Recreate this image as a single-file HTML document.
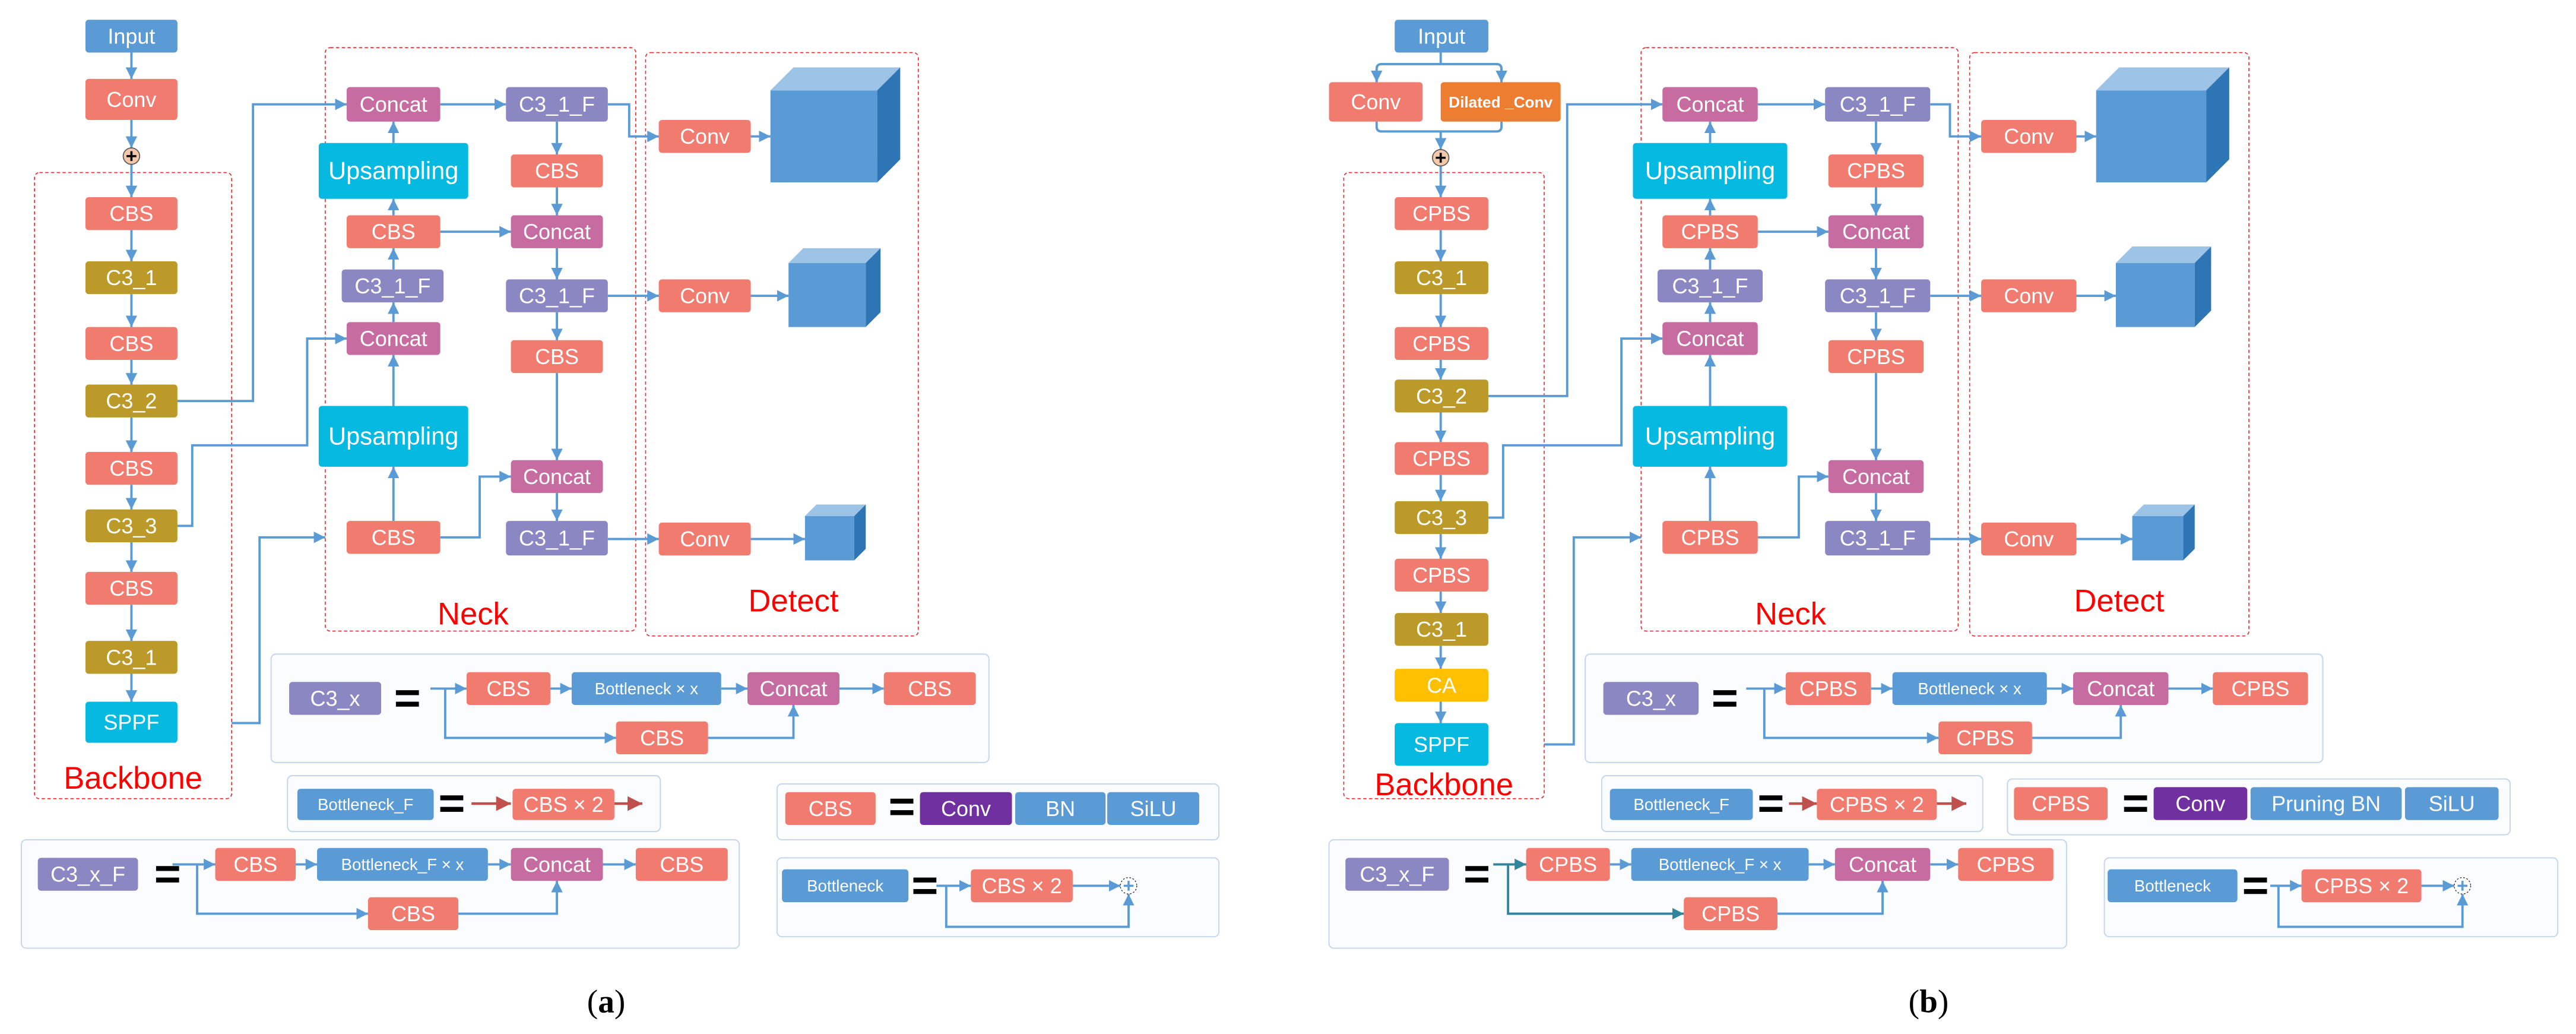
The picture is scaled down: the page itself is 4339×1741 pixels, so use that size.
<!DOCTYPE html>
<html><head><meta charset="utf-8"><style>
html,body{margin:0;padding:0;background:#fff}
svg{display:block}
.t{fill:#fff;text-anchor:middle;font-family:"Liberation Sans Narrow","Liberation Sans",sans-serif;font-size:13px}
.s{font-size:10px}
.r{fill:#f00;text-anchor:middle;font-family:"Liberation Sans Narrow","Liberation Sans",sans-serif;font-size:19px}
.l{fill:none;stroke:#5b9bd5;stroke-width:1.4}
.d{fill:none;stroke:#e03030;stroke-width:0.6;stroke-dasharray:2,1.5}
.g{fill:#fbfcfe;stroke:#c3d6ee;stroke-width:0.7}
.B{fill:#5b9bd5}.S{fill:#f27b6f}.O{fill:#bc9a2a}.P{fill:#8b87c3}.M{fill:#c66ca1}.C{fill:#05b9e1}.V{fill:#7030a0}.Y{fill:#ffc000}.Or{fill:#ed7d31}
.k{fill:#000}
</style></head><body>
<svg width="4339" height="1741" viewBox="0 0 1568.1 629.2" xmlns="http://www.w3.org/2000/svg">
<defs>
<marker id="a" viewBox="0 0 10 10" refX="10" refY="5" markerWidth="7" markerHeight="7" markerUnits="userSpaceOnUse" orient="auto"><path d="M0,0L10,5L0,10z" fill="#5b9bd5"/></marker>
<marker id="ar" viewBox="0 0 10 10" refX="10" refY="5" markerWidth="9" markerHeight="9" markerUnits="userSpaceOnUse" orient="auto"><path d="M0,0L10,5L0,10z" fill="#c0504d"/></marker>
<marker id="at" viewBox="0 0 10 10" refX="10" refY="5" markerWidth="7" markerHeight="7" markerUnits="userSpaceOnUse" orient="auto"><path d="M0,0L10,5L0,10z" fill="#31859c"/></marker>
</defs>

<!-- ================= PANEL A ================= -->
<rect class="d" x="21" y="105" width="120" height="381" rx="3"/>
<rect class="d" x="198" y="29" width="189" height="355" rx="3"/>
<rect class="d" x="393" y="32" width="166" height="355" rx="3"/>

<g class="l" marker-end="url(#a)">
<path d="M80,32V48"/><path d="M80,73V90"/><path d="M80,100V120"/>
<path d="M80,140V159"/><path d="M80,179V199"/><path d="M80,219V234"/><path d="M80,254V275"/><path d="M80,295V310"/><path d="M80,330V348"/><path d="M80,368V390"/><path d="M80,410V427"/>
<path d="M108,244H154V63.5H211"/>
<path d="M108,320H117V271H187V206H211"/>
<path d="M141,440H158V327H198"/>
<path d="M239.5,87V74"/><path d="M239.5,131V121"/><path d="M239.5,164V151"/><path d="M239.5,196V184"/><path d="M239.5,247V216"/><path d="M239.5,317V284"/>
<path d="M268,63.5H308"/><path d="M268,141H311"/>
<path d="M339,74V94"/><path d="M339,114V131"/><path d="M339,151V170"/><path d="M339,190V207"/><path d="M339,227V280"/><path d="M339,300V317"/>
<path d="M268,327H292V290H311"/>
<path d="M370,63.5H383V83H401"/><path d="M370,180H401"/><path d="M370,328H401"/>
<path d="M457,83H469"/><path d="M457,180H480"/><path d="M457,328H490"/>
</g>
<circle cx="80" cy="95" r="5" fill="#f4c7a8" stroke="#555" stroke-width="0.6"/>
<path d="M77,95H83M80,92V98" stroke="#000" stroke-width="1.3"/>

<rect class="B" x="52" y="12" width="56" height="20" rx="2"/><text class="t" x="80" y="26.5">Input</text>
<rect class="S" x="52" y="48" width="56" height="25" rx="2"/><text class="t" x="80" y="65">Conv</text>
<rect class="S" x="52" y="120" width="56" height="20" rx="2"/><text class="t" x="80" y="134.5">CBS</text>
<rect class="O" x="52" y="159" width="56" height="20" rx="2"/><text class="t" x="80" y="173.5">C3_1</text>
<rect class="S" x="52" y="199" width="56" height="20" rx="2"/><text class="t" x="80" y="213.5">CBS</text>
<rect class="O" x="52" y="234" width="56" height="20" rx="2"/><text class="t" x="80" y="248.5">C3_2</text>
<rect class="S" x="52" y="275" width="56" height="20" rx="2"/><text class="t" x="80" y="289.5">CBS</text>
<rect class="O" x="52" y="310" width="56" height="20" rx="2"/><text class="t" x="80" y="324.5">C3_3</text>
<rect class="S" x="52" y="348" width="56" height="20" rx="2"/><text class="t" x="80" y="362.5">CBS</text>
<rect class="O" x="52" y="390" width="56" height="20" rx="2"/><text class="t" x="80" y="404.5">C3_1</text>
<rect class="C" x="52" y="427" width="56" height="25" rx="2"/><text class="t" x="80" y="444">SPPF</text>
<text class="r" x="81" y="480">Backbone</text>

<rect class="M" x="211" y="53" width="57" height="21" rx="2"/><text class="t" x="239.5" y="68">Concat</text>
<rect class="C" x="194" y="87" width="91" height="34" rx="2"/><text class="t" x="239.5" y="109" style="font-size:15px">Upsampling</text>
<rect class="S" x="211" y="131" width="57" height="20" rx="2"/><text class="t" x="239.5" y="145.5">CBS</text>
<rect class="P" x="208" y="164" width="62" height="20" rx="2"/><text class="t" x="239" y="178.5">C3_1_F</text>
<rect class="M" x="211" y="196" width="57" height="20" rx="2"/><text class="t" x="239.5" y="210.5">Concat</text>
<rect class="C" x="194" y="247" width="91" height="37" rx="2"/><text class="t" x="239.5" y="270.5" style="font-size:15px">Upsampling</text>
<rect class="S" x="211" y="317" width="57" height="20" rx="2"/><text class="t" x="239.5" y="331.5">CBS</text>
<rect class="P" x="308" y="53" width="62" height="21" rx="2"/><text class="t" x="339" y="68">C3_1_F</text>
<rect class="S" x="311" y="94" width="56" height="20" rx="2"/><text class="t" x="339" y="108.5">CBS</text>
<rect class="M" x="311" y="131" width="56" height="20" rx="2"/><text class="t" x="339" y="145.5">Concat</text>
<rect class="P" x="308" y="170" width="62" height="20" rx="2"/><text class="t" x="339" y="184.5">C3_1_F</text>
<rect class="S" x="311" y="207" width="56" height="20" rx="2"/><text class="t" x="339" y="221.5">CBS</text>
<rect class="M" x="311" y="280" width="56" height="20" rx="2"/><text class="t" x="339" y="294.5">Concat</text>
<rect class="P" x="308" y="317" width="62" height="21" rx="2"/><text class="t" x="339" y="332">C3_1_F</text>
<text class="r" x="288" y="380">Neck</text>

<rect class="S" x="401" y="73" width="56" height="20" rx="2"/><text class="t" x="429" y="87.5">Conv</text>
<rect class="S" x="401" y="170" width="56" height="20" rx="2"/><text class="t" x="429" y="184.5">Conv</text>
<rect class="S" x="401" y="318" width="56" height="20" rx="2"/><text class="t" x="429" y="332.5">Conv</text>
<rect x="469" y="55" width="65" height="56" fill="#5b9bd5"/><path d="M469,55L483,41H548L534,55z" fill="#9dc3e6"/><path d="M534,55L548,41V97L534,111z" fill="#2e75b6"/>
<rect x="480" y="160" width="47" height="39" fill="#5b9bd5"/><path d="M480,160L489,151H536L527,160z" fill="#9dc3e6"/><path d="M527,160L536,151V190L527,199z" fill="#2e75b6"/>
<rect x="490" y="314" width="30" height="27" fill="#5b9bd5"/><path d="M490,314L497,307H527L520,314z" fill="#9dc3e6"/><path d="M520,314L527,307V334L520,341z" fill="#2e75b6"/>
<text class="r" x="483" y="372">Detect</text>

<!-- legends a -->
<rect class="g" x="165" y="398" width="437" height="66" rx="3"/>
<rect class="g" x="175" y="472" width="227" height="34" rx="3"/>
<rect class="g" x="473" y="477" width="269" height="34" rx="3"/>
<rect class="g" x="473" y="522" width="269" height="48" rx="3"/>
<rect class="g" x="13" y="511" width="437" height="66" rx="3"/>
<g class="l" marker-end="url(#a)">
<path d="M262,419H284"/><path d="M271,419V449H375"/><path d="M335,419H348"/><path d="M439,419H455"/><path d="M511,419H538"/><path d="M431,449H483V429"/>
<path d="M570,539H591"/><path d="M653,539H682"/><path d="M576,539V564H687V544"/>
<path d="M105,526H131"/><path d="M120,526V556H224"/><path d="M180,526H193"/><path d="M297,526H311"/><path d="M367,526H387"/><path d="M279,556H339V536"/>
</g>
<g stroke="#c0504d" stroke-width="1.6" marker-end="url(#ar)"><path d="M287,489H311"/><path d="M374,489H391"/></g>
<rect class="P" x="176" y="415" width="56" height="20" rx="2"/><text class="t" x="204" y="429.5">C3_x</text>
<rect class="k" x="241" y="420" width="14" height="3"/><rect class="k" x="241" y="427" width="14" height="3"/>
<rect class="S" x="284" y="409" width="51" height="20" rx="2"/><text class="t" x="309.5" y="423.5">CBS</text>
<rect class="B" x="348" y="409" width="91" height="20" rx="2"/><text class="t s" x="393.5" y="422.5">Bottleneck × x</text>
<rect class="M" x="455" y="409" width="56" height="20" rx="2"/><text class="t" x="483" y="423.5">Concat</text>
<rect class="S" x="538" y="409" width="56" height="20" rx="2"/><text class="t" x="566" y="423.5">CBS</text>
<rect class="S" x="375" y="439" width="56" height="20" rx="2"/><text class="t" x="403" y="453.5">CBS</text>

<rect class="B" x="181" y="480" width="83" height="19" rx="2"/><text class="t s" x="222.5" y="493">Bottleneck_F</text>
<rect class="k" x="268" y="484" width="14" height="3"/><rect class="k" x="268" y="491" width="14" height="3"/>
<rect class="S" x="312" y="480" width="62" height="19" rx="2"/><text class="t" x="343" y="494">CBS × 2</text>

<rect class="S" x="478" y="482" width="55" height="20" rx="2"/><text class="t" x="505.5" y="496.5">CBS</text>
<rect class="k" x="542" y="486" width="14" height="3"/><rect class="k" x="542" y="493" width="14" height="3"/>
<rect class="V" x="560" y="482" width="56" height="20" rx="2"/><text class="t" x="588" y="496.5">Conv</text>
<rect class="B" x="618" y="482" width="55" height="20" rx="2"/><text class="t" x="645.5" y="496.5">BN</text>
<rect class="B" x="674" y="482" width="56" height="20" rx="2"/><text class="t" x="702" y="496.5">SiLU</text>

<rect class="B" x="476" y="529" width="77" height="20" rx="2"/><text class="t s" x="514.5" y="542.5">Bottleneck</text>
<rect class="k" x="556" y="534" width="14" height="3"/><rect class="k" x="556" y="541" width="14" height="3"/>
<rect class="S" x="591" y="529" width="62" height="20" rx="2"/><text class="t" x="622" y="543.5">CBS × 2</text>
<circle cx="687" cy="539" r="5" fill="#fff" stroke="#333" stroke-width="0.5" stroke-dasharray="1,1"/><path d="M684,539H690M687,536V542" stroke="#5b9bd5" stroke-width="1.3"/>

<rect class="P" x="23" y="522" width="61" height="20" rx="2"/><text class="t" x="53.5" y="536.5">C3_x_F</text>
<rect class="k" x="95" y="527" width="14" height="3"/><rect class="k" x="95" y="534" width="14" height="3"/>
<rect class="S" x="131" y="516" width="49" height="20" rx="2"/><text class="t" x="155.5" y="530.5">CBS</text>
<rect class="B" x="193" y="516" width="104" height="20" rx="2"/><text class="t s" x="245" y="529.5">Bottleneck_F × x</text>
<rect class="M" x="311" y="516" width="56" height="20" rx="2"/><text class="t" x="339" y="530.5">Concat</text>
<rect class="S" x="387" y="516" width="56" height="20" rx="2"/><text class="t" x="415" y="530.5">CBS</text>
<rect class="S" x="224" y="546" width="55" height="20" rx="2"/><text class="t" x="251.5" y="560.5">CBS</text>

<text x="369" y="616" text-anchor="middle" font-family="Liberation Serif,serif" font-size="20">(<tspan font-weight="bold">a</tspan>)</text>

<!-- ================= PANEL B ================= -->
<rect class="d" x="818" y="105" width="122" height="381" rx="3"/>
<rect class="d" x="999" y="29" width="193" height="355" rx="3"/>
<rect class="d" x="1199" y="32" width="170" height="355" rx="3"/>

<g class="l">
<path d="M877,32V39"/><path d="M838,50V42Q838,39 841,39H911Q914,39 914,42V50" marker-end="url(#a)"/>
<path d="M838,74V77Q838,80 841,80H911Q914,80 914,77V74"/>
</g>
<g class="l" marker-end="url(#a)">
<path d="M838,42V50"/><path d="M914,42V50"/>
<path d="M877,80V91"/><path d="M877,101V120"/>
<path d="M877,140V159"/><path d="M877,179V199"/><path d="M877,219V231"/><path d="M877,251V269"/><path d="M877,289V305"/><path d="M877,325V340"/><path d="M877,360V373"/><path d="M877,393V407"/><path d="M877,427V440"/>
<path d="M906,241H954V63.5H1012"/>
<path d="M906,315H915V271H987V206H1012"/>
<path d="M940,453H958V327H999"/>
<path d="M1041,87V74"/><path d="M1041,131V121"/><path d="M1041,164V151"/><path d="M1041,196V184"/><path d="M1041,247V216"/><path d="M1041,317V284"/>
<path d="M1070,63.5H1111"/><path d="M1070,141H1113"/>
<path d="M1142,74V94"/><path d="M1142,114V131"/><path d="M1142,151V170"/><path d="M1142,190V207"/><path d="M1142,227V280"/><path d="M1142,300V317"/>
<path d="M1070,327H1095V290H1113"/>
<path d="M1175,63.5H1187V83H1206"/><path d="M1175,180H1206"/><path d="M1175,328H1206"/>
<path d="M1264,83H1276"/><path d="M1264,180H1288"/><path d="M1264,328H1298"/>
</g>
<circle cx="877" cy="96" r="5" fill="#f4c7a8" stroke="#555" stroke-width="0.6"/>
<path d="M874,96H880M877,93V99" stroke="#000" stroke-width="1.3"/>

<rect class="B" x="849" y="12" width="57" height="20" rx="2"/><text class="t" x="877.5" y="26.5">Input</text>
<rect class="S" x="809" y="50" width="57" height="24" rx="2"/><text class="t" x="837.5" y="66.5">Conv</text>
<rect class="Or" x="877" y="50" width="73" height="24" rx="2"/><text class="t" x="913.5" y="65.5" style="font-size:9.5px;font-weight:bold">Dilated _Conv</text>
<rect class="S" x="849" y="120" width="57" height="20" rx="2"/><text class="t" x="877.5" y="134.5">CPBS</text>
<rect class="O" x="849" y="159" width="57" height="20" rx="2"/><text class="t" x="877.5" y="173.5">C3_1</text>
<rect class="S" x="849" y="199" width="57" height="20" rx="2"/><text class="t" x="877.5" y="213.5">CPBS</text>
<rect class="O" x="849" y="231" width="57" height="20" rx="2"/><text class="t" x="877.5" y="245.5">C3_2</text>
<rect class="S" x="849" y="269" width="57" height="20" rx="2"/><text class="t" x="877.5" y="283.5">CPBS</text>
<rect class="O" x="849" y="305" width="57" height="20" rx="2"/><text class="t" x="877.5" y="319.5">C3_3</text>
<rect class="S" x="849" y="340" width="57" height="20" rx="2"/><text class="t" x="877.5" y="354.5">CPBS</text>
<rect class="O" x="849" y="373" width="57" height="20" rx="2"/><text class="t" x="877.5" y="387.5">C3_1</text>
<rect class="Y" x="849" y="407" width="57" height="20" rx="2"/><text class="t" x="877.5" y="421.5">CA</text>
<rect class="C" x="849" y="440" width="57" height="26" rx="2"/><text class="t" x="877.5" y="457.5">SPPF</text>
<text class="r" x="879" y="484">Backbone</text>

<rect class="M" x="1012" y="53" width="58" height="21" rx="2"/><text class="t" x="1041" y="68">Concat</text>
<rect class="C" x="994" y="87" width="94" height="34" rx="2"/><text class="t" x="1041" y="109" style="font-size:15px">Upsampling</text>
<rect class="S" x="1012" y="131" width="58" height="20" rx="2"/><text class="t" x="1041" y="145.5">CPBS</text>
<rect class="P" x="1009" y="164" width="64" height="20" rx="2"/><text class="t" x="1041" y="178.5">C3_1_F</text>
<rect class="M" x="1012" y="196" width="58" height="20" rx="2"/><text class="t" x="1041" y="210.5">Concat</text>
<rect class="C" x="994" y="247" width="94" height="37" rx="2"/><text class="t" x="1041" y="270.5" style="font-size:15px">Upsampling</text>
<rect class="S" x="1012" y="317" width="58" height="20" rx="2"/><text class="t" x="1041" y="331.5">CPBS</text>
<rect class="P" x="1111" y="53" width="64" height="21" rx="2"/><text class="t" x="1143" y="68">C3_1_F</text>
<rect class="S" x="1113" y="94" width="58" height="20" rx="2"/><text class="t" x="1142" y="108.5">CPBS</text>
<rect class="M" x="1113" y="131" width="58" height="20" rx="2"/><text class="t" x="1142" y="145.5">Concat</text>
<rect class="P" x="1111" y="170" width="64" height="20" rx="2"/><text class="t" x="1143" y="184.5">C3_1_F</text>
<rect class="S" x="1113" y="207" width="58" height="20" rx="2"/><text class="t" x="1142" y="221.5">CPBS</text>
<rect class="M" x="1113" y="280" width="58" height="20" rx="2"/><text class="t" x="1142" y="294.5">Concat</text>
<rect class="P" x="1111" y="317" width="64" height="21" rx="2"/><text class="t" x="1143" y="332">C3_1_F</text>
<text class="r" x="1090" y="380">Neck</text>

<rect class="S" x="1206" y="73" width="58" height="20" rx="2"/><text class="t" x="1235" y="87.5">Conv</text>
<rect class="S" x="1206" y="170" width="58" height="20" rx="2"/><text class="t" x="1235" y="184.5">Conv</text>
<rect class="S" x="1206" y="318" width="58" height="20" rx="2"/><text class="t" x="1235" y="332.5">Conv</text>
<rect x="1276" y="55" width="67" height="56" fill="#5b9bd5"/><path d="M1276,55L1290,41H1357L1343,55z" fill="#9dc3e6"/><path d="M1343,55L1357,41V97L1343,111z" fill="#2e75b6"/>
<rect x="1288" y="160" width="48" height="39" fill="#5b9bd5"/><path d="M1288,160L1298,150H1346L1336,160z" fill="#9dc3e6"/><path d="M1336,160L1346,150V189L1336,199z" fill="#2e75b6"/>
<rect x="1298" y="314" width="31" height="27" fill="#5b9bd5"/><path d="M1298,314L1305,307H1336L1329,314z" fill="#9dc3e6"/><path d="M1329,314L1336,307V334L1329,341z" fill="#2e75b6"/>
<text class="r" x="1290" y="372">Detect</text>

<!-- legends b -->
<rect class="g" x="965" y="398" width="449" height="66" rx="3"/>
<rect class="g" x="975" y="472" width="232" height="34" rx="3"/>
<rect class="g" x="1222" y="474" width="306" height="34" rx="3"/>
<rect class="g" x="1281" y="522" width="276" height="48" rx="3"/>
<rect class="g" x="809" y="511" width="449" height="66" rx="3"/>
<g class="l" marker-end="url(#a)">
<path d="M1063,419H1087"/><path d="M1074,419V449H1180"/><path d="M1139,419H1152"/><path d="M1246,419H1262"/><path d="M1320,419H1347"/><path d="M1237,449H1291V429"/>
<path d="M1382,539H1401"/><path d="M1474,539H1494"/><path d="M1387,539V564H1499V544"/>
<path d="M980,526H993"/><path d="M1101,526H1117"/><path d="M1175,526H1192"/><path d="M1082,556H1146V536"/>
</g>
<g fill="none" stroke="#31859c" stroke-width="1.4" marker-end="url(#at)"><path d="M909,526H929"/><path d="M918,526V556H1025"/></g>
<g stroke="#c0504d" stroke-width="1.6" marker-end="url(#ar)"><path d="M1089,489H1106"/><path d="M1179,489H1197"/></g>
<rect class="P" x="976" y="415" width="58" height="20" rx="2"/><text class="t" x="1005" y="429.5">C3_x</text>
<rect class="k" x="1043" y="420" width="14" height="3"/><rect class="k" x="1043" y="427" width="14" height="3"/>
<rect class="S" x="1087" y="409" width="52" height="20" rx="2"/><text class="t" x="1113" y="423.5">CPBS</text>
<rect class="B" x="1152" y="409" width="94" height="20" rx="2"/><text class="t s" x="1199" y="422.5">Bottleneck × x</text>
<rect class="M" x="1262" y="409" width="58" height="20" rx="2"/><text class="t" x="1291" y="423.5">Concat</text>
<rect class="S" x="1347" y="409" width="58" height="20" rx="2"/><text class="t" x="1376" y="423.5">CPBS</text>
<rect class="S" x="1180" y="439" width="57" height="20" rx="2"/><text class="t" x="1208.5" y="453.5">CPBS</text>

<rect class="B" x="980" y="480" width="87" height="19" rx="2"/><text class="t s" x="1023.5" y="493">Bottleneck_F</text>
<rect class="k" x="1071" y="484" width="14" height="3"/><rect class="k" x="1071" y="491" width="14" height="3"/>
<rect class="S" x="1106" y="480" width="73" height="19" rx="2"/><text class="t" x="1142.5" y="494">CPBS × 2</text>

<rect class="S" x="1226" y="479" width="57" height="20" rx="2"/><text class="t" x="1254.5" y="493.5">CPBS</text>
<rect class="k" x="1293" y="484" width="14" height="3"/><rect class="k" x="1293" y="491" width="14" height="3"/>
<rect class="V" x="1311" y="479" width="57" height="20" rx="2"/><text class="t" x="1339.5" y="493.5">Conv</text>
<rect class="B" x="1370" y="479" width="92" height="20" rx="2"/><text class="t" x="1416" y="493.5">Pruning BN</text>
<rect class="B" x="1464" y="479" width="57" height="20" rx="2"/><text class="t" x="1492.5" y="493.5">SiLU</text>

<rect class="B" x="1283" y="529" width="79" height="20" rx="2"/><text class="t s" x="1322.5" y="542.5">Bottleneck</text>
<rect class="k" x="1366" y="534" width="14" height="3"/><rect class="k" x="1366" y="541" width="14" height="3"/>
<rect class="S" x="1401" y="529" width="73" height="20" rx="2"/><text class="t" x="1437.5" y="543.5">CPBS × 2</text>
<circle cx="1499" cy="539" r="5" fill="#fff" stroke="#333" stroke-width="0.5" stroke-dasharray="1,1"/><path d="M1496,539H1502M1499,536V542" stroke="#5b9bd5" stroke-width="1.3"/>

<rect class="P" x="819" y="522" width="63" height="20" rx="2"/><text class="t" x="850.5" y="536.5">C3_x_F</text>
<rect class="k" x="892" y="527" width="14" height="3"/><rect class="k" x="892" y="534" width="14" height="3"/>
<rect class="S" x="929" y="516" width="51" height="20" rx="2"/><text class="t" x="954.5" y="530.5">CPBS</text>
<rect class="B" x="993" y="516" width="108" height="20" rx="2"/><text class="t s" x="1047" y="529.5">Bottleneck_F × x</text>
<rect class="M" x="1117" y="516" width="58" height="20" rx="2"/><text class="t" x="1146" y="530.5">Concat</text>
<rect class="S" x="1192" y="516" width="58" height="20" rx="2"/><text class="t" x="1221" y="530.5">CPBS</text>
<rect class="S" x="1025" y="546" width="57" height="20" rx="2"/><text class="t" x="1053.5" y="560.5">CPBS</text>

<text x="1174" y="616" text-anchor="middle" font-family="Liberation Serif,serif" font-size="20">(<tspan font-weight="bold">b</tspan>)</text>
</svg>
</body></html>
